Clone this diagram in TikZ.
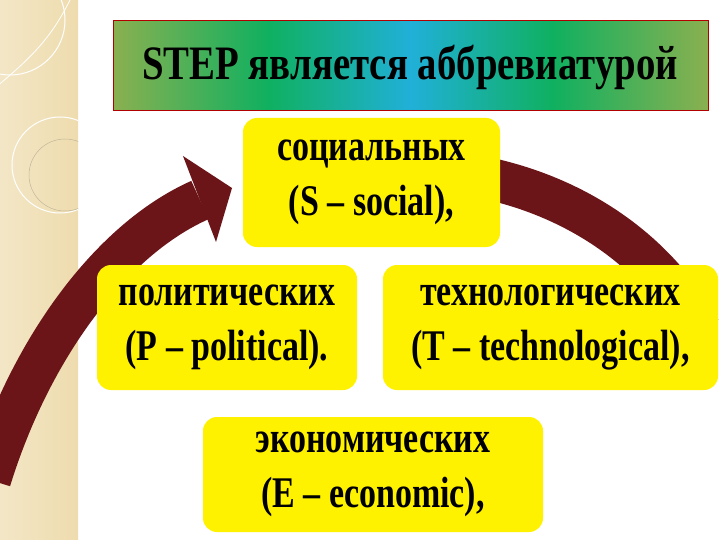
\documentclass[tikz,border=0pt]{standalone}
\usepackage{fontspec}
\usepackage{graphicx}
\setmainfont{Liberation Serif}
\definecolor{maroon}{HTML}{6B1519}
\definecolor{beige}{HTML}{EEDCAE}
\definecolor{olive}{HTML}{8AB050}
\definecolor{midgreen}{HTML}{10B060}
\definecolor{cyanc}{HTML}{20B0D8}
\pgfdeclarehorizontalshading{titleshade}{100bp}{color(0bp)=(olive); color(25bp)=(olive); color(38bp)=(midgreen); color(50bp)=(cyanc); color(62bp)=(midgreen); color(75bp)=(olive); color(100bp)=(olive)}
\newcommand{\tl}[1]{\scalebox{0.97}[1.25]{#1}}
\begin{document}
\begin{tikzpicture}[x=1pt,y=-1pt,
  ybox/.style={fill=yellow,rounded corners=14pt,inner sep=0pt,align=center,font=\bfseries\fontsize{35}{55}\selectfont},
  band/.style={draw=maroon,line width=42pt}]
\useasboundingbox (0,0) rectangle (720,540);
\fill[white] (0,0) rectangle (720,540);
% left decorative strip
\shade[left color=beige!70!white,right color=beige] (0,0) rectangle (78,540);
\draw[white,line width=2pt] (80,0) -- (80,540);
\begin{scope}
\clip (0,0) rectangle (78,540);
\draw[white,line width=1pt] (60,165) circle (48);
\draw[beige!60!gray,line width=0.5pt] (65,175) circle (36);
\draw[white,line width=1pt] (10,20) circle (55);
\draw[white,line width=0.8pt] (-20,100) .. controls (30,60) and (50,40) .. (70,0);
\end{scope}
% title
\shade[shading=titleshade] (113,21) rectangle (708,111);
\draw[red!70!black,line width=1pt] (113,21) rectangle (708,111);
\node[font=\bfseries\fontsize{40}{44}\selectfont] (title) at (410,68) {\scalebox{0.97}[1.2]{STEP является аббревиатурой}};
% circular arrow
\coordinate (ls) at (-10,480);
\coordinate (lb) at (200,200);
\draw[band] (ls) .. controls (30,350) and (110,240) .. (lb);
\fill[maroon] (183,156) -- (232,188) -- (216,242) -- cycle;
\coordinate (rs) at (470,175);
\coordinate (re) at (700,330);
\draw[band] (rs) .. controls (560,190) and (650,240) .. (re);
% boxes
\node[ybox,minimum width=257pt,minimum height=129pt] (S) at (371.5,182.5) {\tl{социальных}\\\tl{(S – social),}};
\node[ybox,minimum width=260pt,minimum height=125pt] (P) at (227,327.5) {\tl{политических}\\\tl{(P – political).}};
\node[ybox,minimum width=335pt,minimum height=125pt] (T) at (550.5,327.5) {\tl{технологических}\\\tl{(T – technological),}};
\node[ybox,minimum width=340pt,minimum height=115pt] (E) at (373,474.5) {\tl{экономических}\\\tl{(E – economic),}};
\end{tikzpicture}
\end{document}
